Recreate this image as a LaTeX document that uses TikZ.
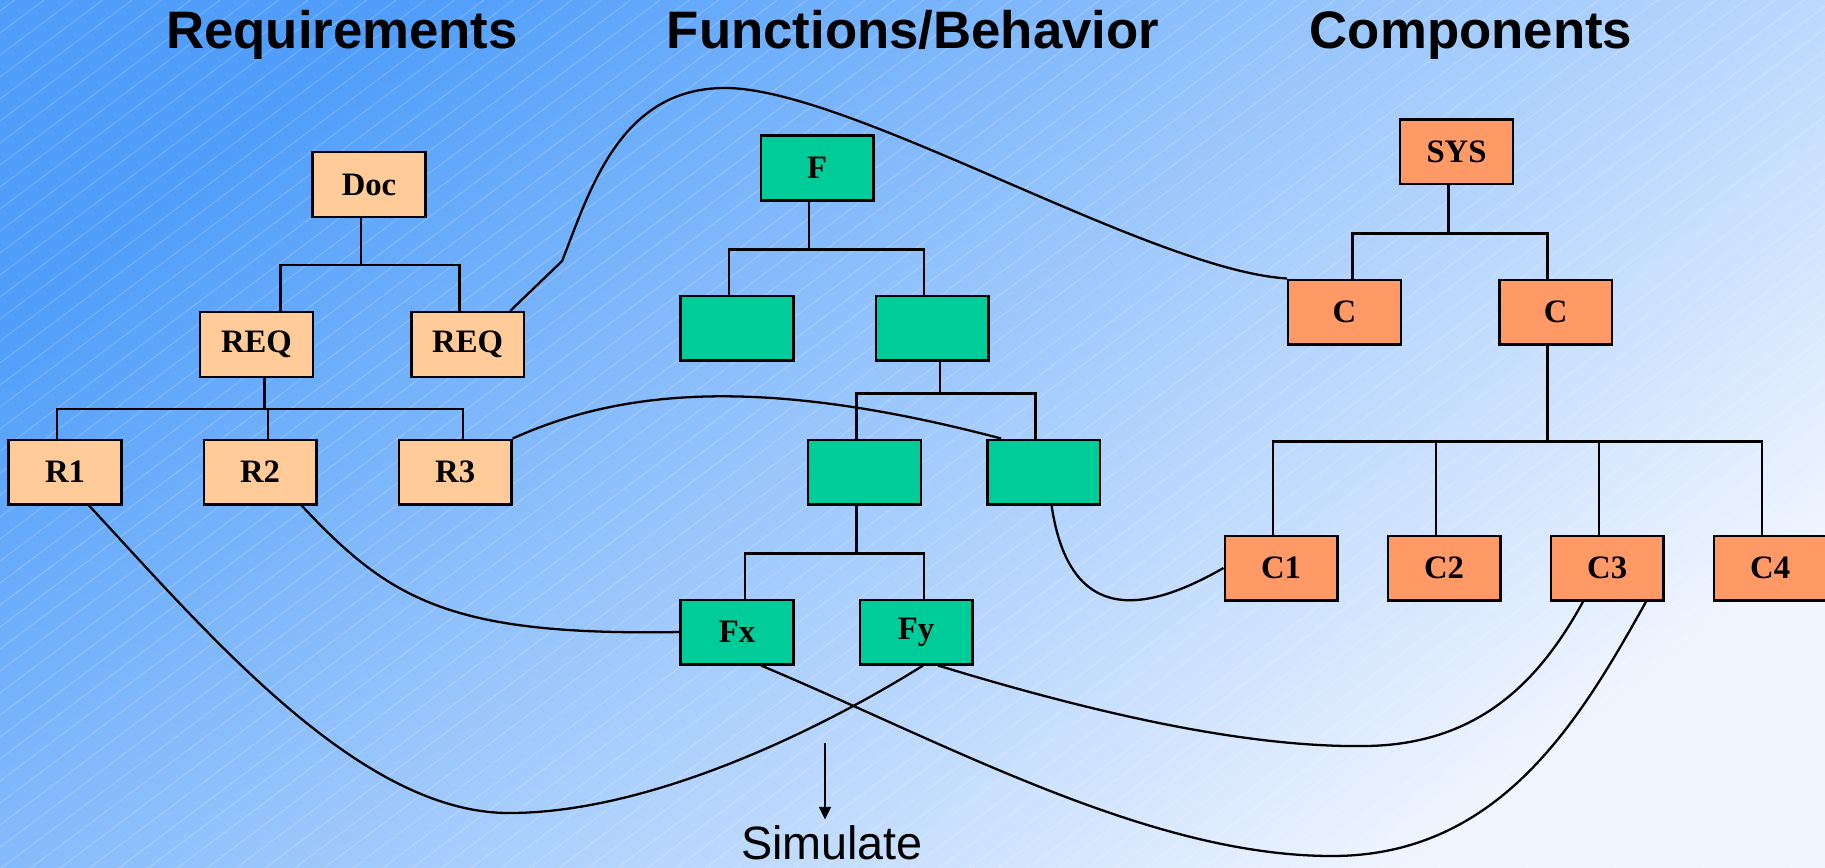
\documentclass[tikz,border=0pt]{standalone}
\usepackage{fontspec}
\setmainfont{Liberation Serif}
\newfontfamily\headfont{Liberation Sans}
\usepackage{tikz}
\usetikzlibrary{arrows.meta,positioning,calc}

\definecolor{reqfill}{RGB}{255,204,153}
\definecolor{funfill}{RGB}{0,204,153}
\definecolor{compfill}{RGB}{255,153,102}
\definecolor{bgtop}{RGB}{80,158,250}
\definecolor{bgbot}{RGB}{240,245,255}

\begin{document}
\begin{tikzpicture}[
    x=0.01cm, y=-0.01cm,
    font=\fontsize{9.3}{11}\selectfont\bfseries,
    box/.style={draw, line width=0.7pt, minimum width=1.125cm,
                minimum height=0.645cm, inner sep=0pt},
    sreq/.style={box, fill=reqfill},
    sfun/.style={box, fill=funfill},
    scomp/.style={box, fill=compfill},
    tree/.style={line width=0.65pt},
    link/.style={line width=0.65pt},
    heading/.style={font=\headfont\bfseries\fontsize{15}{18}\selectfont, anchor=base},
    hatch/.style={white, opacity=0.2, line width=0.3pt},
    >={Triangle[length=3.6pt,width=3.4pt]},
    ]
\useasboundingbox (0,0) rectangle (1825,867);

% background: diagonal blue gradient with fine hatching
\shade[top color=bgtop, bottom color=bgbot, shading angle=38] (0,0) rectangle (1825,867);
\begin{scope}
  \clip (0,0) rectangle (1825,867);
  \foreach \c in {11,33,...,2241}
    \draw[hatch] (0,\c) -- ({\c/0.75},0);
\end{scope}

\node[heading] (hreq) at (342,49) {Requirements};
\node[heading] (hfun) at (913,49) {Functions/Behavior};
\node[heading] (hcomp) at (1471,49) {Components};

% requirements tree
\node[sreq] (doc) at (369,184.5) {Doc};
\node[sreq] (req1) at (256.5,344.5) {REQ};
\node[sreq, right=0.96cm of req1] (req2) {REQ};
\node[sreq] (r1) at (65,472) {R1};
\node[sreq, right=0.8cm of r1] (r2) {R2};
\node[sreq, right=0.8cm of r2] (r3) {R3};

% functions tree
\node[sfun] (f) at (817,168) {F};
\node[sfun] (fa) at (737,328) {};
\node[sfun, right=0.8cm of fa] (fb) {};
\node[sfun] (fc) at (864.5,472) {};
\node[sfun, right=0.64cm of fc] (fd) {};
\node[sfun] (fx) at (737,632) {Fx};
\node[sfun, right=0.64cm of fx] (fy) {Fy};

% components tree
\node[scomp] (sys) at (1456.5,152) {SYS};
\node[scomp] (cl) at (1344.5,312) {C};
\node[scomp, right=0.96cm of cl] (cr) {C};
\node[scomp] (c1) at (1281,568) {C1};
\node[scomp, right=0.48cm of c1] (c2) {C2};
\node[scomp, right=0.48cm of c2] (c3) {C3};
\node[scomp, right=0.48cm of c3] (c4) {C4};

% org-chart elbows
\draw[tree] ($(doc.south)+(-8,0)$) -- ++(0,47);
\draw[tree] ($(req1.north)+(24,0)$) |- ($(doc.south)+(-8,47)$);
\draw[tree] ($(req2.north)+(-8,0)$) |- ($(doc.south)+(-8,47)$);
\draw[tree] ($(req1.south)+(8,0)$) -- ++(0,31);
\foreach \n/\dx in {r1/-8, r2/8, r3/8}
  \draw[tree] ($(\n.north)+(\dx,0)$) |- ($(req1.south)+(8,31)$);

\draw[tree] ($(f.south)+(-8,0)$) -- ++(0,48);
\foreach \n in {fa, fb}
  \draw[tree] ($(\n.north)+(-8,0)$) |- ($(f.south)+(-8,48)$);
\draw[tree] ($(fb.south)+(8,0)$) -- ++(0,32);
\foreach \n in {fc, fd}
  \draw[tree] ($(\n.north)+(-8,0)$) |- ($(fb.south)+(8,32)$);
\draw[tree] ($(fc.south)+(-8,0)$) -- ++(0,48);
\foreach \n in {fx, fy}
  \draw[tree] ($(\n.north)+(8,0)$) |- ($(fc.south)+(-8,48)$);

\draw[tree] ($(sys.south)+(-8,0)$) -- ++(0,48);
\draw[tree] ($(cl.north)+(8,0)$) |- ($(sys.south)+(-8,48)$);
\draw[tree] ($(cr.north)+(-8,0)$) |- ($(sys.south)+(-8,48)$);
\draw[tree] ($(cr.south)+(-8,0)$) -- ++(0,96);
\foreach \n in {c1, c2, c3, c4}
  \draw[tree] ($(\n.north)+(-8,0)$) |- ($(cr.south)+(-8,96)$);

% traceability links
\draw[link] ($(req2.north east)+(-15,0)$) -- +(52,-50)
  .. controls (590,190) and (620,88) .. (725,88)
  .. controls (850,88) and (1150,270) .. (cl.north west);
\draw[link] (r3.north east) .. controls (620,390) and (760,375) .. ($(fd.north west)+(15,0)$);
\draw[link] ($(r2.south east)+(-16,0)$) .. controls (390,600) and (450,636) .. (fx.west);
\draw[link] ($(r1.south)+(24,0)$) .. controls (209,635) and (360,813) .. (509,813)
  .. controls (650,813) and (820,730) .. ($(fy.south)+(7,0)$);
\draw[link] ($(fx.south)+(24,0)$) .. controls (950,745) and (1150,856) .. (1332,856)
  .. controls (1500,856) and (1580,720) .. ($(c3.south)+(39,0)$);
\draw[link] ($(fy.south)+(22,0)$) .. controls (1100,715) and (1250,748) .. (1367,746)
  .. controls (1480,744) and (1540,680) .. ($(c3.south)+(-24,0)$);
\draw[link] ($(fd.south)+(8,0)$) .. controls (1070,630) and (1150,610) .. (c1.west);

% simulation
\coordinate (simtop) at (825,743);
\node[font=\headfont\mdseries\fontsize{13.3}{16}\selectfont, anchor=base,
      inner sep=0pt, outer sep=1.6pt] (sim) at (832,859) {Simulate};
\draw[link, ->] (simtop) -- (simtop |- sim.north);
\end{tikzpicture}
\end{document}
